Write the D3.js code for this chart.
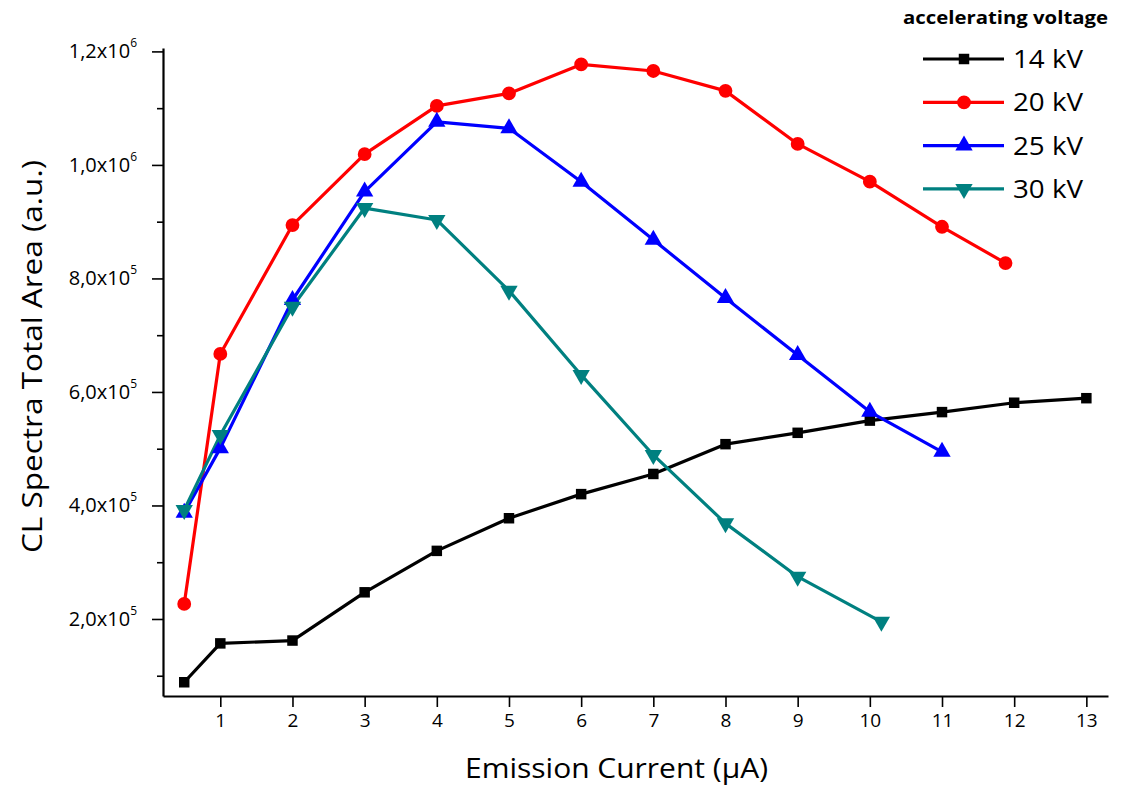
<!DOCTYPE html>
<html>
<head>
<meta charset="utf-8">
<script src="https://cdn.jsdelivr.net/npm/d3@7/dist/d3.min.js"></script>
<style>
  html, body { margin: 0; padding: 0; background: #fff; }
  svg { display: block; }
  text { font-family: "Open Sans", "Noto Sans", sans-serif; fill: #000; }
</style>
</head>
<body>
<svg id="chart" width="1123" height="788"></svg>
<script>
// Emission current (µA) for each series
const current14 = [0.5, 1, 2, 3, 4, 5, 6, 7, 8, 9, 10, 11, 12, 13];
const current20 = [0.5, 1, 2, 3, 4, 5, 6, 7, 8, 9, 10, 11, 11.88];
const current25 = [0.5, 1, 2, 3, 4, 5, 6, 7, 8, 9, 10, 11];
const current30 = [0.5, 1, 2, 3, 4, 5, 6, 7, 8, 9, 10.16];

// CL spectra total area (a.u.)
const area14 = [88500, 157000, 162000, 247000, 320000, 377500, 420000, 455500, 508000, 528000, 549500, 564500, 581000, 589000];
const area20 = [226500, 667000, 894000, 1019000, 1104000, 1126000, 1177000, 1165500, 1130500, 1037000, 970500, 891000, 827000];
const area25 = [387000, 501000, 762000, 953000, 1076000, 1064500, 970500, 868000, 765500, 665000, 565000, 494500];
const area30 = [392000, 524000, 750000, 924000, 903000, 778500, 630000, 489000, 368500, 274500, 195000];

const seriesNames = ["14 kV", "20 kV", "25 kV", "30 kV"];
const seriesColors = ["#000000", "#ff0000", "#0000ff", "#008080"];
const seriesSymbols = ["square", "circle", "triangleUp", "triangleDown"];

// Axis ticks
const xTicks = [1, 2, 3, 4, 5, 6, 7, 8, 9, 10, 11, 12, 13];
const yTicks = [200000, 400000, 600000, 800000, 1000000, 1200000];
const yTickMantissa = ["2,0", "4,0", "6,0", "8,0", "1,0", "1,2"];
const yTickExponent = ["5", "5", "5", "5", "6", "6"];
const yMinorTicks = [100000, 300000, 500000, 700000, 900000, 1100000];

const xLabel = "Emission Current (\u03BCA)";
const yLabel = "CL Spectra Total Area (a.u.)";
const legendTitle = "accelerating voltage";

const series = [
  { x: current14, y: area14 },
  { x: current20, y: area20 },
  { x: current25, y: area25 },
  { x: current30, y: area30 }
].map((s, i) => ({
  name: seriesNames[i],
  color: seriesColors[i],
  symbol: seriesSymbols[i],
  points: s.x.map((xv, j) => [xv, s.y[j]])
}));

const svg = d3.select("#chart");
const plot = { left: 163, right: 1108, top: 48, bottom: 696 };

const x = d3.scaleLinear().domain([0.206, 13.3]).range([plot.left, plot.right]);
const y = d3.scaleLinear().domain([64300, 1206000]).range([plot.bottom, plot.top]);

// Marker shapes
function markerPath(kind) {
  if (kind === "square") return d3.symbol().type(d3.symbolSquare).size(110)();
  if (kind === "circle") return d3.symbol().type(d3.symbolCircle).size(150)();
  return d3.symbol().type(d3.symbolTriangle).size(130)();
}
function markerTransform(kind, px, py) {
  if (kind === "triangleDown") return `translate(${px},${py}) rotate(180)`;
  return `translate(${px},${py})`;
}

// X axis
const xAxis = svg.append("g")
  .attr("transform", `translate(0,${plot.bottom})`)
  .call(d3.axisBottom(x).tickValues(xTicks).tickSize(11).tickSizeOuter(0).tickPadding(7));
xAxis.select(".domain").attr("stroke-width", 2.2);
xAxis.selectAll(".tick line").attr("stroke-width", 1.6);
xAxis.selectAll(".tick text").attr("font-size", 19).style("font-family", "'Open Sans', sans-serif");

// Y axis with major ticks; labels are drawn separately with exponents
const yAxis = svg.append("g")
  .attr("transform", `translate(${plot.left},0)`)
  .call(d3.axisLeft(y).tickValues(yTicks).tickSize(11).tickSizeOuter(0).tickFormat(""));
yAxis.select(".domain").attr("stroke-width", 2.2);
yAxis.selectAll(".tick line").attr("stroke-width", 1.6);

// Minor ticks between the major ones
svg.append("g")
  .attr("transform", `translate(${plot.left},0)`)
  .call(d3.axisLeft(y).tickValues(yMinorTicks).tickSize(6).tickSizeOuter(0).tickFormat(""))
  .call(g => g.select(".domain").remove())
  .selectAll(".tick line").attr("stroke-width", 1.6);

const yLabels = svg.append("g");
yTicks.forEach((v, i) => {
  const t = yLabels.append("text")
    .attr("x", 137)
    .attr("y", y(v) + 7)
    .attr("text-anchor", "end")
    .attr("font-size", 20);
  t.append("tspan").text(yTickMantissa[i] + "x10");
  t.append("tspan").attr("font-size", 12).attr("dy", -11).text(yTickExponent[i]);
});

// Axis titles
svg.append("text")
  .attr("x", 465)
  .attr("y", 778)
  .attr("font-size", 28)
  .attr("textLength", 303)
  .attr("lengthAdjust", "spacingAndGlyphs")
  .text(xLabel);

svg.append("text")
  .attr("transform", "translate(42,553) rotate(-90)")
  .attr("font-size", 28)
  .attr("textLength", 393)
  .attr("lengthAdjust", "spacingAndGlyphs")
  .text(yLabel);

// Lines and markers
const line = d3.line().x(d => x(d[0])).y(d => y(d[1]));
series.forEach(s => {
  svg.append("path")
    .datum(s.points)
    .attr("fill", "none")
    .attr("stroke", s.color)
    .attr("stroke-width", 3.2)
    .attr("stroke-linejoin", "round")
    .attr("d", line);
});
series.forEach(s => {
  svg.append("g").selectAll("path")
    .data(s.points)
    .join("path")
    .attr("d", markerPath(s.symbol))
    .attr("transform", d => markerTransform(s.symbol, x(d[0]), y(d[1])))
    .attr("fill", s.color);
});

// Legend
svg.append("text")
  .attr("x", 903)
  .attr("y", 24)
  .attr("font-size", 17)
  .attr("font-weight", "bold")
  .attr("textLength", 205)
  .attr("lengthAdjust", "spacingAndGlyphs")
  .text(legendTitle);

const legend = svg.append("g");
series.forEach((s, i) => {
  const ly = 59 + i * 43.3;
  legend.append("line")
    .attr("x1", 923).attr("x2", 1004)
    .attr("y1", ly).attr("y2", ly)
    .attr("stroke", s.color).attr("stroke-width", 3.2);
  legend.append("path")
    .attr("d", markerPath(s.symbol))
    .attr("transform", markerTransform(s.symbol, 964, ly))
    .attr("fill", s.color);
  legend.append("text")
    .attr("x", 1013)
    .attr("y", ly + 9)
    .attr("font-size", 26)
    .attr("textLength", 70)
    .attr("lengthAdjust", "spacingAndGlyphs")
    .text(s.name);
});
</script>
</body>
</html>
